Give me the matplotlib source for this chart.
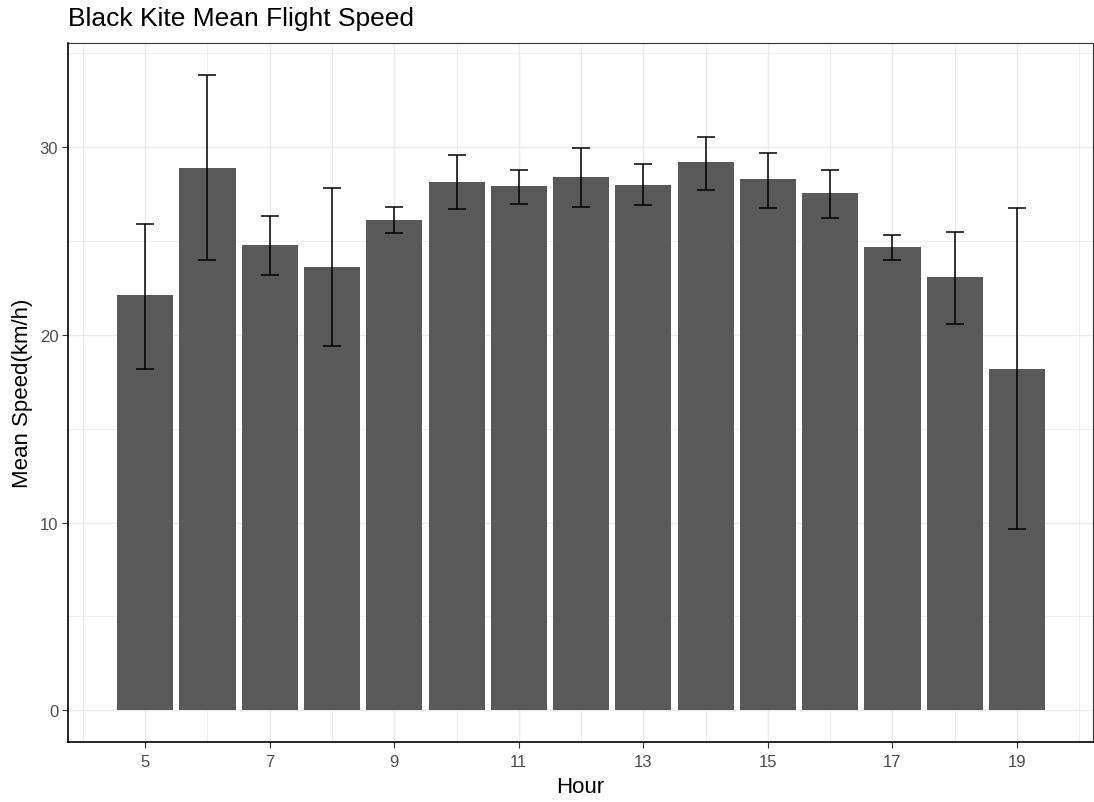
import matplotlib.pyplot as plt
from matplotlib.ticker import MultipleLocator

plt.rcParams['font.family'] = ['Liberation Sans', 'DejaVu Sans']

# средняя скорость полёта по часам
hours = [5, 6, 7, 8, 9, 10, 11, 12, 13, 14, 15, 16, 17, 18, 19]
speed = [22.1, 28.9, 24.8, 23.6, 26.1, 28.15, 27.9, 28.4, 28.0, 29.2, 28.3, 27.55, 24.65, 23.1, 18.2]
err_low = [18.2, 24.0, 23.2, 19.4, 25.4, 26.7, 26.95, 26.8, 26.9, 27.7, 26.75, 26.2, 24.0, 20.6, 9.65]
err_high = [25.9, 33.85, 26.35, 27.8, 26.8, 29.6, 28.8, 29.95, 29.1, 30.55, 29.7, 28.8, 25.3, 25.45, 26.75]

yerr = [[s - lo for s, lo in zip(speed, err_low)],
        [hi - s for s, hi in zip(speed, err_high)]]

fig = plt.figure(figsize=(10.94, 8.03), dpi=100)
ax = fig.add_axes([68 / 1094, 60 / 803, 1025 / 1094, 699 / 803])

ax.bar(hours, speed, width=0.9, color='#595959', zorder=2)
ax.errorbar(hours, speed, yerr=yerr, fmt='none', ecolor='black',
            elinewidth=1.1, capsize=6.6, capthick=1.1, zorder=3)

ax.set_xlim(3.76, 20.22)
ax.set_ylim(-1.69, 35.54)
ax.xaxis.set_major_locator(MultipleLocator(2, offset=1))
ax.xaxis.set_minor_locator(MultipleLocator(2))
ax.yaxis.set_major_locator(MultipleLocator(10))
ax.yaxis.set_minor_locator(MultipleLocator(5))

ax.grid(which='major', color='#EBEBEB', linewidth=1.0, zorder=0)
ax.grid(which='minor', color='#EBEBEB', linewidth=0.6, zorder=0)
ax.set_axisbelow(True)

for side in ['top', 'right']:
    ax.spines[side].set_color('#333333')
    ax.spines[side].set_linewidth(0.8)
for side in ['left', 'bottom']:
    ax.spines[side].set_color('black')
    ax.spines[side].set_linewidth(1.2)

ax.tick_params(which='major', length=4, width=0.8, color='#333333',
               labelcolor='#4D4D4D', labelsize=12)
ax.tick_params(axis='x', pad=5)
ax.tick_params(axis='y', pad=3)
ax.tick_params(which='minor', length=0)

ax.set_xlabel('Hour', fontsize=16, labelpad=5)
ax.set_ylabel('Mean Speed(km/h)', fontsize=16, labelpad=5)
fig.text(68 / 1094, 1 - 26 / 803, 'Black Kite Mean Flight Speed',
         fontsize=19, va='baseline', ha='left')

fig.savefig('out.png', dpi=100)
